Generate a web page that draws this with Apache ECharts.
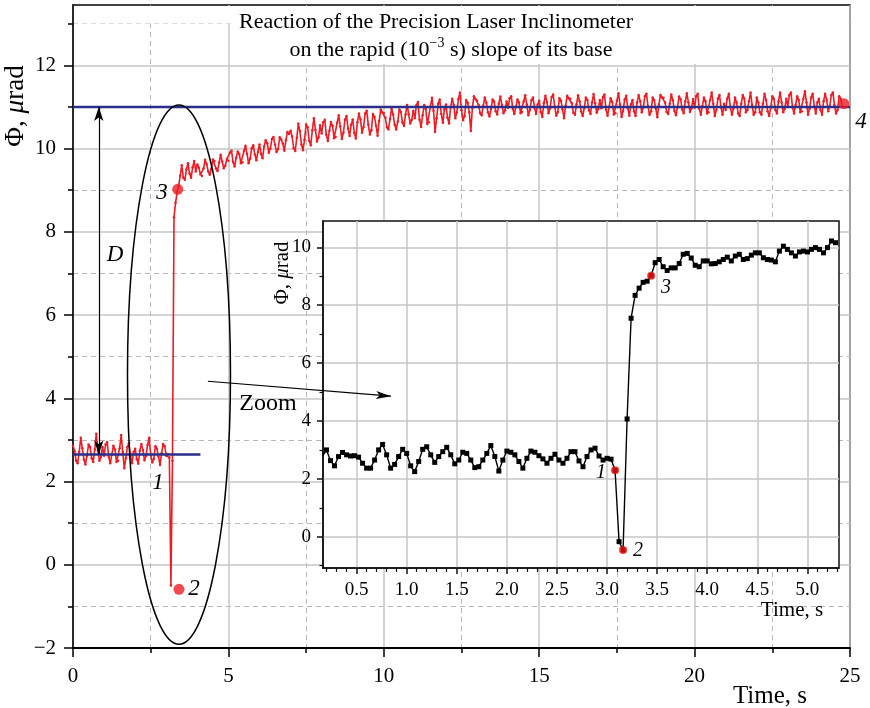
<!DOCTYPE html>
<html><head><meta charset="utf-8">
<script src="https://cdn.jsdelivr.net/npm/echarts@6/dist/echarts.min.js"></script>
<style>html,body{margin:0;padding:0;background:#fff}#c{width:870px;height:708px}</style>
</head><body><div id="c"></div><script>
// ---------------- DATA ----------------
// Main record: Phi (µrad), sampled every mainStep seconds starting at t = 0
const mainStep = 0.05;
const mainPhi = [
2.86,2.74,2.50,2.44,2.71,3.05,2.80,2.53,2.41,2.62,2.89,2.83,2.56,2.47,2.77,3.15,2.74,2.50,2.59,2.83,
2.62,2.89,2.95,2.59,2.44,2.65,2.86,2.77,2.47,2.50,2.80,3.12,2.71,2.32,2.56,2.83,2.92,2.62,2.44,2.71,
2.79,2.54,2.43,2.74,2.90,2.76,2.51,2.62,2.88,3.05,2.65,2.46,2.54,2.85,2.79,2.60,2.40,2.68,2.90,2.85,
2.62,2.66,2.58,-0.5,2.5,8.35,8.7,8.95,9.1,9.35,9.6,9.3,9.25,9.5,9.65,9.4,9.3,9.55,9.7,9.45,
9.62,9.54,9.38,9.34,9.52,9.73,9.63,9.45,9.37,9.51,9.74,9.70,9.52,9.46,9.66,9.85,9.69,9.53,9.59,9.75,
9.71,9.90,9.95,9.68,9.57,9.78,9.93,9.87,9.65,9.67,9.94,10.07,9.87,9.65,9.76,10.01,10.08,9.86,9.72,9.92,
10.10,9.87,9.77,10.05,10.20,10.13,9.90,10.00,10.23,10.28,10.09,9.92,9.99,10.27,10.22,10.12,9.95,10.20,10.40,10.35,
10.43,10.29,10.01,9.94,10.26,10.60,10.42,10.10,9.96,10.21,10.58,10.51,10.19,10.08,10.44,10.73,10.45,10.17,10.27,10.56,
10.36,10.63,10.69,10.33,10.18,10.43,10.64,10.55,10.25,10.28,10.62,10.80,10.53,10.23,10.38,10.69,10.78,10.48,10.30,10.57,
10.70,10.38,10.24,10.63,10.84,10.70,10.38,10.52,10.84,10.91,10.58,10.34,10.44,10.83,10.76,10.55,10.31,10.66,10.94,10.87,
10.85,10.74,10.51,10.46,10.71,10.96,10.82,10.57,10.46,10.65,10.94,10.88,10.63,10.54,10.82,11.05,10.83,10.60,10.69,10.91,
10.73,11.05,11.12,10.69,10.52,10.80,11.05,10.95,10.59,10.63,11.01,11.22,10.91,10.40,10.73,11.08,11.18,10.83,10.62,10.94,
11.06,10.74,10.60,10.99,11.20,11.05,10.73,10.87,11.19,11.35,10.92,10.68,10.78,11.17,11.10,10.87,10.42,10.98,11.26,11.19,
11.15,11.05,10.85,10.80,11.03,11.23,11.10,10.87,10.77,10.95,11.18,11.13,10.90,10.82,11.08,11.25,11.05,10.85,10.92,11.13,
10.98,11.21,11.26,10.95,10.83,11.00,11.18,11.11,10.85,10.88,11.13,11.28,11.06,10.80,10.93,11.16,11.23,10.98,10.83,11.06,
11.15,10.88,10.76,11.09,11.27,11.12,10.85,10.97,11.24,11.30,11.00,10.79,10.88,11.21,11.15,10.94,10.73,11.03,11.27,11.21,
11.20,11.09,10.86,10.81,11.06,11.28,11.14,10.89,10.78,10.97,11.23,11.17,10.92,10.83,11.11,11.31,11.09,10.86,10.95,11.17,
10.97,11.24,11.30,10.94,10.79,11.00,11.21,11.12,10.82,10.85,11.15,11.33,11.06,10.76,10.91,11.18,11.27,10.97,10.79,11.06,
11.17,10.90,10.78,11.11,11.29,11.14,10.87,10.99,11.26,11.32,11.02,10.81,10.90,11.23,11.17,10.96,10.75,11.05,11.29,11.23,
11.22,11.11,10.88,10.83,11.08,11.30,11.16,10.91,10.80,10.99,11.25,11.19,10.94,10.85,11.13,11.33,11.11,10.88,10.97,11.19,
10.99,11.26,11.32,10.96,10.81,11.02,11.23,11.14,10.84,10.87,11.17,11.35,11.08,10.78,10.93,11.20,11.29,10.99,10.81,11.08,
10.93,11.20,11.32,10.99,10.81,10.96,11.23,11.11,10.84,10.78,11.08,11.29,11.20,10.87,10.93,11.14,11.35,11.05,10.81,10.87,
11.23,11.11,10.87,10.81,11.08,11.32,11.17,10.90,10.78,10.99,11.26,11.20,10.93,10.84,11.14,11.35,11.11,10.87,10.96,11.20,
11.02,11.29,11.35,10.99,10.84,11.05,11.26,11.17,10.87,10.90,11.20,11.38,11.11,10.81,10.96,11.23,11.32,11.02,10.84,11.11,
11.20,10.93,10.81,11.14,11.32,11.17,10.90,11.02,11.29,11.35,11.05,10.84,10.93,11.26,11.20,11.00
];
// Zoomed record (inset): sampled every insetStep seconds starting at insetStart
const insetStart = 0.16;
const insetStep = 0.04;
const insetPhi = [
2.79,3.00,2.63,2.45,2.77,2.91,2.83,2.79,2.80,2.75,
2.54,2.37,2.37,2.65,3.00,3.19,2.83,2.37,2.50,2.77,
3.02,2.88,2.45,2.25,2.60,3.02,3.11,2.83,2.57,2.77,
2.94,3.09,2.83,2.52,2.65,2.92,2.88,2.65,2.39,2.42,
2.65,2.88,3.15,2.77,2.27,2.65,2.96,2.92,2.83,2.60,
2.37,2.71,2.96,2.92,2.80,2.69,2.54,2.71,2.85,2.65,
2.54,2.71,2.94,2.94,2.62,2.42,2.77,3.00,3.06,2.79,
2.65,2.71,2.68,
2.30,-0.17,-0.46,4.07,7.55,8.34,8.59,8.79,8.83,9.02,
9.47,9.58,9.33,9.20,9.29,9.29,9.44,9.76,9.79,9.63,
9.38,9.33,9.53,9.53,9.43,9.44,9.50,9.58,9.66,9.53,
9.70,9.76,9.58,9.61,9.73,9.81,9.81,9.64,9.58,9.56,
9.50,9.87,10.04,9.93,9.81,9.70,9.84,9.87,9.84,9.93,
9.99,9.93,9.81,9.99,10.22,10.16
];
const insetKeyIndex = [73, 75, 82];          // points 1, 2, 3 in the inset
const insetKeyLabels = ['1', '2', '3'];
// Marked points on the main plot: 3, 2, 4
const mainKeyT   = [3.37, 3.41, 24.8];
const mainKeyPhi = [9.02, -0.59, 11.08];
// Reference levels
const levelFinal = 11.0;
const levelInitial = 2.65;
const levelInitialEndT = 4.1;
// Annotation geometry (data units)
const arrowDT = 0.83;
const zoomArrowT = [4.34, 10.23];
const zoomArrowPhi = [4.41, 4.05];
const ellipseCenter = [3.41, 4.57];
const ellipseRadius = [1.657, 6.48];
// Ticks
const mainXTicks = [0, 5, 10, 15, 20, 25];
const mainYTicks = [-2, 0, 2, 4, 6, 8, 10, 12];
const mainYMinor = [-1, 1, 3, 5, 7, 9, 11, 13];
const insetXTicks = [0.5, 1.0, 1.5, 2.0, 2.5, 3.0, 3.5, 4.0, 4.5, 5.0];
const insetXMinor = [0.2,0.3,0.4,0.6,0.7,0.8,0.9,1.1,1.2,1.3,1.4,1.6,1.7,1.8,1.9,2.1,2.2,2.3,2.4,2.6,2.7,2.8,2.9,3.1,3.2,3.3,3.4,3.6,3.7,3.8,3.9,4.1,4.2,4.3,4.4,4.6,4.7,4.8,4.9,5.1,5.2,5.3];
const insetYTicks = [0, 2, 4, 6, 8, 10];
const insetYMinor = [-1, 1, 3, 5, 7, 9];

// ---------------- BUILD ----------------
const SERIF = 'Liberation Serif';
const mainData = mainPhi.map((v, i) => [+(i * mainStep).toFixed(3), v]);
const insetData = insetPhi.map((v, i) => [+(insetStart + i * insetStep).toFixed(3), v]);
const insetKeyData = insetKeyIndex.map(i => insetData[i]);
const mainKeyData = mainKeyT.map((t, i) => [t, mainKeyPhi[i]]);

const GRID_SOLID = {color: '#c6c6c6', width: 1.5};
const GRID_DASH = {color: '#b8b8b8', width: 1, type: [5, 4]};
const BLACK = '#000';
const RED = '#ec1c24';
const minusFmt = v => (v < 0 ? '\u2212' + Math.abs(v) : String(v));
const txt = (x, y, text, size, extra) => Object.assign({type: 'text', z: 10, x: x, y: y,
  style: Object.assign({text: text, fontFamily: SERIF, fontSize: size, fill: BLACK, align: 'center', verticalAlign: 'middle'}, extra || {})});

const chart = echarts.init(document.getElementById('c'), null, {renderer: 'canvas'});
const option = {
  animation: false,
  backgroundColor: '#fff',
  grid: [
    {left: 73, top: 5, width: 777, height: 643, show: true, borderColor: BLACK, borderWidth: 1.5, outerBoundsMode: 'none', containLabel: false},
    {left: 323, top: 221, width: 516, height: 347, show: true, backgroundColor: '#fff', borderColor: '#111', borderWidth: 1.5, z: 1, outerBoundsMode: 'none', containLabel: false}
  ],
  xAxis: [
    {type: 'value', gridIndex: 0, min: 0, max: 25, interval: 5,
     axisLine: {onZero: false, lineStyle: {color: BLACK, width: 2}},
     axisTick: {length: 9, lineStyle: {color: BLACK, width: 1.5}},
     minorTick: {show: true, splitNumber: 2, length: 5, lineStyle: {color: BLACK, width: 1.5}},
     splitLine: {show: true, lineStyle: GRID_SOLID},
     minorSplitLine: {show: true, lineStyle: GRID_DASH},
     axisLabel: {fontFamily: SERIF, fontSize: 21, color: BLACK, margin: 18, customValues: mainXTicks}},
    {type: 'value', gridIndex: 1, min: 0.165, max: 5.315, z: 2,
     axisLine: {onZero: false, lineStyle: {color: '#111', width: 1.5}},
     axisTick: {customValues: insetXTicks, length: 6, lineStyle: {color: '#111', width: 1.5}},
     axisLabel: {customValues: insetXTicks, formatter: v => v.toFixed(1), fontFamily: SERIF, fontSize: 19, color: BLACK, margin: 13},
     splitLine: {show: true, lineStyle: GRID_SOLID}},
    {type: 'value', gridIndex: 1, min: 0.165, max: 5.315, position: 'bottom', z: 2,
     axisLine: {show: false, onZero: false},
     axisTick: {customValues: insetXMinor, length: 4, lineStyle: {color: '#111', width: 1.2}},
     axisLabel: {show: false}, splitLine: {show: false}}
  ],
  yAxis: [
    {type: 'value', gridIndex: 0, min: -2, max: 13.45, position: 'left',
     axisLine: {show: true, onZero: false, lineStyle: {color: BLACK, width: 1.5}},
     axisTick: {show: true, customValues: mainYTicks, length: 9, lineStyle: {color: BLACK, width: 1.5}},
     axisLabel: {customValues: mainYTicks, formatter: minusFmt, fontFamily: SERIF, fontSize: 21, color: BLACK, margin: 17},
     splitLine: {show: true, lineStyle: GRID_SOLID}},
    {type: 'value', gridIndex: 0, min: -2, max: 13.45, position: 'left',
     axisLine: {show: false, onZero: false},
     axisTick: {show: true, customValues: mainYMinor, length: 5, lineStyle: {color: BLACK, width: 1.5}},
     axisLabel: {show: false},
     splitLine: {show: true, lineStyle: GRID_DASH}},
    {type: 'value', gridIndex: 1, min: -1.08, max: 10.91, position: 'left', z: 2,
     axisLine: {show: true, onZero: false, lineStyle: {color: '#111', width: 1.5}},
     axisTick: {show: true, customValues: insetYTicks, length: 6, lineStyle: {color: '#111', width: 1.5}},
     axisLabel: {customValues: insetYTicks, fontFamily: SERIF, fontSize: 19, color: BLACK, margin: 12},
     splitLine: {show: true, lineStyle: GRID_SOLID}},
    {type: 'value', gridIndex: 1, min: -1.08, max: 10.91, position: 'left', z: 2,
     axisLine: {show: false, onZero: false},
     axisTick: {show: true, customValues: insetYMinor, length: 3.5, lineStyle: {color: '#111', width: 1.2}},
     axisLabel: {show: false}, splitLine: {show: false}}
  ],
  series: [
    {type: 'line', name: 'main', xAxisIndex: 0, yAxisIndex: 0, data: mainData, z: 3,
     showSymbol: true, showAllSymbol: true, symbol: 'circle', symbolSize: 2.5,
     itemStyle: {color: RED}, lineStyle: {color: RED, width: 1.6}},
    {type: 'line', name: 'levelFinal', xAxisIndex: 0, yAxisIndex: 0, z: 4,
     data: [[0, levelFinal], [25, levelFinal]], showSymbol: false,
     lineStyle: {color: '#2a2e8c', width: 2.5},
     markLine: {silent: true, symbol: ['arrow', 'arrow'], symbolSize: [7, 14], animation: false,
       lineStyle: {color: BLACK, width: 1.2, type: 'solid'}, label: {show: false},
       data: [
         [{coord: [arrowDT, levelFinal]}, {coord: [arrowDT, levelInitial]}],
         [{coord: [zoomArrowT[0], zoomArrowPhi[0]], symbol: 'none'}, {coord: [zoomArrowT[1], zoomArrowPhi[1]], symbol: 'arrow', symbolSize: [6, 15]}]
       ]}},
    {type: 'line', name: 'levelInitial', xAxisIndex: 0, yAxisIndex: 0, z: 4,
     data: [[0, levelInitial], [levelInitialEndT, levelInitial]], showSymbol: false,
     lineStyle: {color: '#2a2e8c', width: 2.5}},
    {type: 'custom', name: 'ellipse', xAxisIndex: 0, yAxisIndex: 0, z: 5, clip: false,
     data: [ellipseCenter],
     renderItem: function (params, api) {
       const c = api.coord([api.value(0), api.value(1)]);
       const s = api.size(ellipseRadius);
       const rx = s[0], ry = s[1];
       return {type: 'path', shape: {pathData: 'M' + (c[0] - rx) + ' ' + c[1] + ' A' + rx + ' ' + ry + ' 0 1 0 ' + (c[0] + rx) + ' ' + c[1] + ' A' + rx + ' ' + ry + ' 0 1 0 ' + (c[0] - rx) + ' ' + c[1] + ' Z', layout: 'center'},
         style: {fill: 'none', stroke: BLACK, lineWidth: 1.5}};
     }},
    {type: 'scatter', name: 'mainKey', xAxisIndex: 0, yAxisIndex: 0, z: 6,
     data: mainKeyData, symbol: 'circle', symbolSize: 11, itemStyle: {color: RED}},
    {type: 'line', name: 'inset', xAxisIndex: 1, yAxisIndex: 2, z: 6, data: insetData,
     showSymbol: true, showAllSymbol: true, symbol: 'rect', symbolSize: 5,
     itemStyle: {color: '#000'}, lineStyle: {color: '#000', width: 1.4}},
    {type: 'scatter', name: 'insetKey', xAxisIndex: 1, yAxisIndex: 2, z: 7,
     data: insetKeyData, symbol: 'circle', symbolSize: 8, itemStyle: {color: '#ee1111'}}
  ],
  graphic: {elements: [
    {type: 'rect', z: 1, shape: {x: 74.5, y: 6, width: 774, height: 17.5}, style: {fill: '#fff'}},
    {type: 'rect', z: 1, shape: {x: 232, y: 6, width: 616.5, height: 58}, style: {fill: '#fff'}},
    txt(436, 22, 'Reaction of the Precision Laser Inclinometer', 22),
    txt(451, 50, 'on the rapid (10{sup|\u22123} s) slope of its base', 22,
      {lineHeight: 28, rich: {sup: {fontFamily: SERIF, fontSize: 14, lineHeight: 14, verticalAlign: 'top', fill: BLACK}}}),
    Object.assign(txt(16, 106, '\u03A6, {i|\u03BC}rad', 27, {rich: {i: {fontFamily: SERIF, fontSize: 27, fontStyle: 'italic', fill: BLACK}}}), {rotation: Math.PI / 2}),
    txt(770, 696, 'Time, s', 25),
    Object.assign(txt(282, 273, '\u03A6, {i|\u03BC}rad', 21, {rich: {i: {fontFamily: SERIF, fontSize: 21, fontStyle: 'italic', fill: BLACK}}}), {rotation: Math.PI / 2}),
    txt(792, 610, 'Time, s', 21),
    txt(268, 404, 'Zoom', 24),
    txt(115, 255, 'D', 23, {fontStyle: 'italic'}),
    txt(162, 193, '3', 23, {fontStyle: 'italic'}),
    txt(158, 483, '1', 23, {fontStyle: 'italic'}),
    txt(194, 589, '2', 23, {fontStyle: 'italic'}),
    txt(861, 122, '4', 23, {fontStyle: 'italic'}),
    txt(601, 473, insetKeyLabels[0], 20, {fontStyle: 'italic'}),
    txt(638, 551, insetKeyLabels[1], 20, {fontStyle: 'italic'}),
    txt(666, 288, insetKeyLabels[2], 20, {fontStyle: 'italic'})
  ]}
};
chart.setOption(option);
</script></body></html>
